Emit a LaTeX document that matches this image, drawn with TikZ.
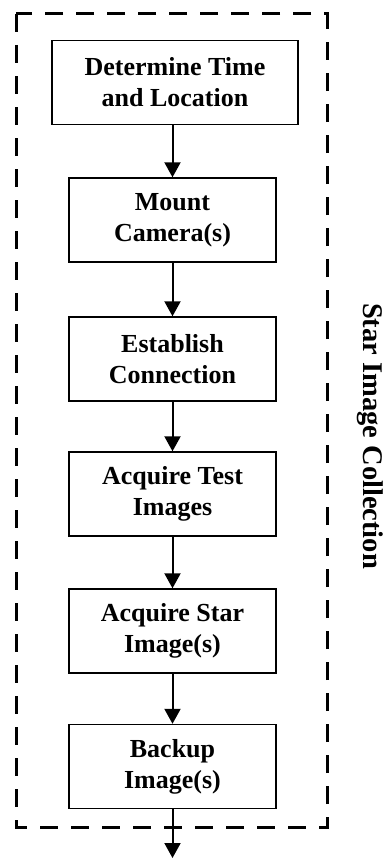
\documentclass[tikz,border=0pt]{standalone}
\usepackage{fontspec}
\setmainfont{Liberation Serif}
\usetikzlibrary{arrows.meta}
\begin{document}
\begin{tikzpicture}[x=1pt,y=1pt,
  stepbox/.style={draw=black,line width=1.4pt,minimum height=84pt,
    align=center,inner sep=0pt,
    font=\fontsize{26}{31}\selectfont\bfseries},
  flow/.style={line width=2pt,-{Triangle[width=16pt,length=15pt]}},
  frame/.style={line width=3pt,dash pattern=on 18pt off 13pt}]
  \useasboundingbox (0,0) rectangle (386,-859);

  % dashed group frame
  \draw[frame] (16,-14) rectangle (327,-827);

  % process steps
  \node[stepbox,minimum width=246pt] (s1) at (175,-82.5) {Determine Time\\and Location};
  \node[stepbox,minimum width=207pt] (s2) at (172.5,-220) {Mount\\Camera(s)};
  \node[stepbox,minimum width=207pt] (s3) at (172.5,-359) {Establish\\Connection};
  \node[stepbox,minimum width=207pt] (s4) at (172.5,-494) {Acquire Test\\Images};
  \node[stepbox,minimum width=207pt] (s5) at (172.5,-631) {Acquire Star\\Image(s)};
  \node[stepbox,minimum width=207pt] (s6) at (172.5,-766.5) {Backup\\Image(s)};
  \coordinate (out) at (172.5,-858);

  % connectors
  \draw[flow] (s2.north |- s1.south) -- (s2.north);
  \draw[flow] (s2) -- (s3);
  \draw[flow] (s3) -- (s4);
  \draw[flow] (s4) -- (s5);
  \draw[flow] (s5) -- (s6);
  \draw[flow] (s6) -- (out);

  % group label
  \node[rotate=-90,font=\fontsize{28.5}{32}\selectfont\bfseries] (lbl) at (370,-436) {Star Image Collection};
\end{tikzpicture}
\end{document}
